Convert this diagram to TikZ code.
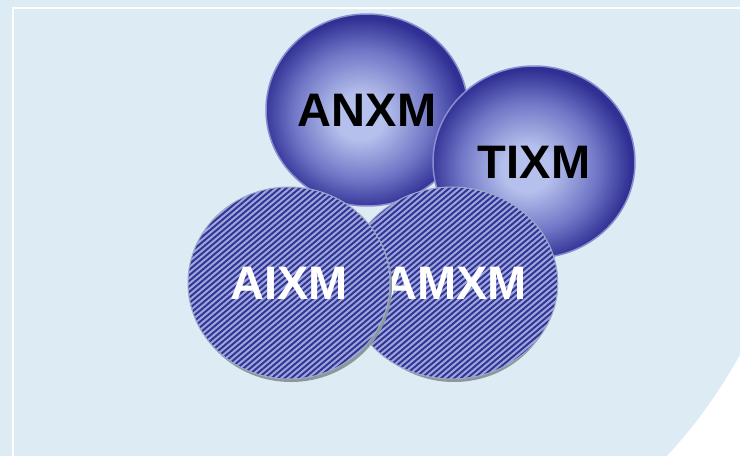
\documentclass[tikz,border=0pt]{standalone}
\usepackage{fontspec}
\setmainfont{Liberation Sans}
\usetikzlibrary{shapes.geometric}
\definecolor{bgblue}{RGB}{221,235,244}
\definecolor{balldark}{RGB}{48,48,148}
\definecolor{ballmid}{RGB}{112,118,198}
\definecolor{balllight}{RGB}{182,192,236}
\definecolor{ballrim}{RGB}{140,140,208}
\definecolor{hatchdark}{RGB}{50,52,148}
\definecolor{hatchlight}{RGB}{156,166,220}
\definecolor{hatchrim}{RGB}{160,168,200}
\definecolor{shadowgrey}{RGB}{138,152,156}
% broad soft highlight, a little left of the centre
\pgfdeclareradialshading{ballshade}{\pgfpoint{-2bp}{-2bp}}{%
  color(0bp)=(balllight); color(6bp)=(balllight);
  color(17bp)=(ballmid); color(25bp)=(balldark); color(50bp)=(balldark)}
\tikzset{
  labeltext/.style={font=\bfseries\fontsize{47}{50}\selectfont},
  ball/.style={ellipse, minimum width=202pt, minimum height=192pt, inner sep=0pt,
    shading=ballshade, draw=ballrim, line width=1.5pt, labeltext, text=black},
  stripe/.style={hatchlight, line width=2pt},
  hatched/.style={ellipse, minimum width=202pt, minimum height=192pt, inner sep=0pt,
    fill=hatchdark, draw=hatchrim, line width=1pt, labeltext, text=white,
    path picture={
      \foreach \i in {-45,...,45}
        \draw[stripe] ([xshift=\i*6.6pt-150pt, yshift=-126pt]path picture bounding box.center)
          -- ++(300pt,252pt);
    }},
  shadowring/.style={ellipse, minimum width=202pt, minimum height=192pt, inner sep=0pt,
    fill=shadowgrey}
}
\begin{document}
\begin{tikzpicture}[x=1pt,y=-1pt]
  % background and frame
  \fill[bgblue] (0,0) rectangle (740,456);
  \useasboundingbox (0,0) rectangle (740,456);
  \fill[white] (740,355) .. controls (718,394) and (695,426) .. (667,456) -- (740,456) -- cycle;
  \draw[white, line width=2pt] (13,456) -- (13,8) -- (740,8);

  % shaded spheres
  \node[ball] (anxm) at (367,110) {ANXM};
  \node[ball] (tixm) at (534,162) {TIXM};

  % hatched discs with a soft shadow
  \node[shadowring] (amxmshadow) at (454,286) {};
  \node[hatched] (amxm) at (452,283) {\hspace{6pt}AMXM};
  \node[shadowring] (aixmshadow) at (291,286) {};
  \node[hatched] (aixm) at (289,283) {AIXM};
\end{tikzpicture}
\end{document}
